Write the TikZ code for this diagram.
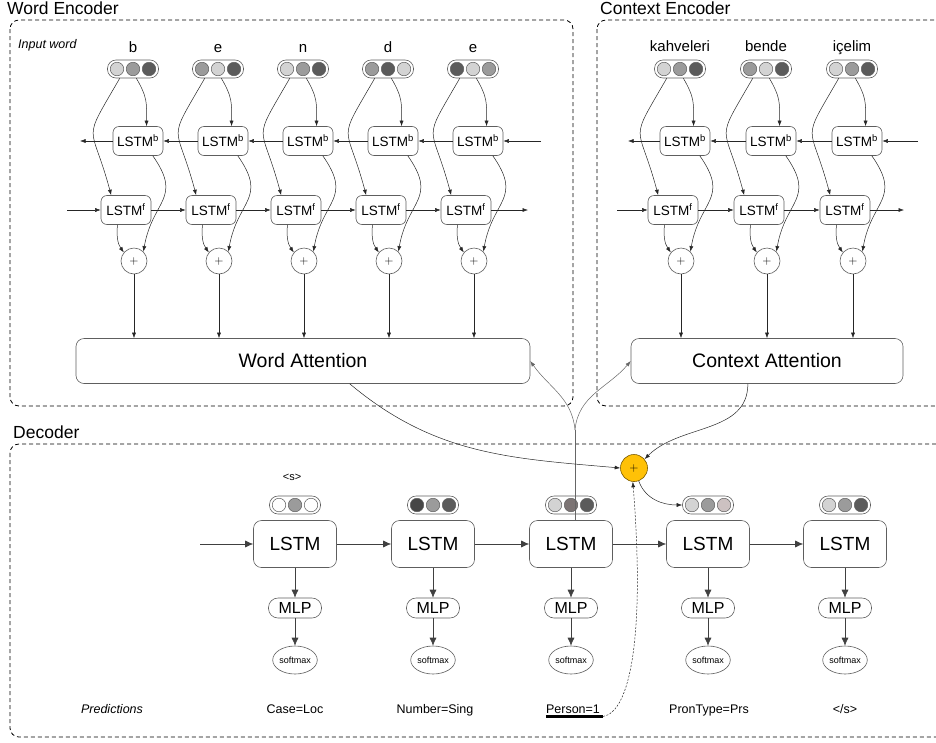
\documentclass[tikz,border=0pt]{standalone}
\usepackage{fontspec}
\setmainfont{Liberation Sans}
\usepackage{xcolor}
\definecolor{dot-light}{HTML}{D3D3D3}
\definecolor{dot-mid}{HTML}{9B9B9B}
\definecolor{dot-dark}{HTML}{5B5B5B}
\definecolor{dot-black}{HTML}{464646}
\definecolor{dot-brown}{HTML}{7C7474}
\definecolor{dot-rose}{HTML}{CCC1C1}
\definecolor{edge-gray}{HTML}{5E5E5E}
\definecolor{merge-gold}{HTML}{FFC107}
\definecolor{merge-edge}{HTML}{7A5A00}
\usetikzlibrary{arrows.meta,shapes.geometric}

\tikzset{
    panel/.style={dash pattern=on 4pt off 3pt, line width=0.8pt, rounded corners=9pt},
    title/.style={anchor=base west, inner sep=0pt, font=\fontsize{17.5}{20}\selectfont},
    note/.style={anchor=base, inner sep=0pt, font=\fontsize{12.5}{15}\selectfont\itshape},
    token/.style={anchor=base, inner sep=0pt, font=\fontsize{15}{18}\selectfont},
    pill/.style={draw=edge-gray, fill=white, line width=0.6pt, rounded corners=8.5pt, minimum width=51pt, minimum height=18pt, inner sep=0pt},
    bead/.style={circle, draw=edge-gray, line width=0.5pt, minimum size=13.5pt, inner sep=0pt},
    cell/.style={draw=edge-gray, line width=0.6pt, rounded corners=6pt, minimum width=50pt, minimum height=29pt, inner sep=0pt, font=\fontsize{13.5}{16}\selectfont},
    sum/.style={circle, draw=edge-gray, line width=0.6pt, minimum size=26pt, inner sep=0pt, font=\fontsize{13}{15}\selectfont},
    attention/.style={draw=edge-gray, line width=0.6pt, rounded corners=8pt, minimum height=45pt, inner sep=0pt, font=\fontsize{19.5}{22}\selectfont},
    dec cell/.style={draw=edge-gray, line width=0.6pt, rounded corners=8pt, minimum width=83pt, minimum height=47pt, inner sep=0pt, font=\fontsize{19}{22}\selectfont},
    mlp/.style={draw=edge-gray, line width=0.6pt, rounded corners=9.5pt, minimum width=53pt, minimum height=20pt, inner sep=0pt, font=\fontsize{16}{18}\selectfont},
    softmax/.style={ellipse, draw=edge-gray, line width=0.6pt, minimum width=39pt, minimum height=28pt, inner sep=0pt, font=\fontsize{9}{10}\selectfont},
    pred/.style={anchor=base, inner sep=0pt, font=\fontsize{12.5}{15}\selectfont},
    merge/.style={circle, fill=merge-gold, draw=merge-edge, line width=0.6pt, minimum size=27pt, inner sep=0pt, font=\fontsize{13}{15}\selectfont},
    link/.style={line width=0.5pt, draw=black!85, -{Latex[length=5.5pt,width=4pt]}},
    feed/.style={line width=0.6pt, draw=black!75, -{Latex[length=8pt,width=7pt]}},
}

% embedding: name, position, three bead colours
\newcommand{\embpill}[5]{%
    \node[pill] (#1) at (#2) {};
    \node[bead, fill=#3] (#1-a) at ([xshift=-16pt]#1.center) {};
    \node[bead, fill=#4] (#1-b) at (#1.center) {};
    \node[bead, fill=#5] (#1-c) at ([xshift=16pt]#1.center) {};
}

\begin{document}
\begin{tikzpicture}[x=1pt, y=-1pt]

    \useasboundingbox (0,0) rectangle (936,742);
    \clip (0,0) rectangle (936,742);

    % Panels
    \draw[panel] (10,20) rectangle (573,406);
    \draw[panel] (597,20) rectangle (950,406);
    \draw[panel] (10,444) rectangle (950,737);
    \node[title] (t-word) at (7,14) {Word Encoder};
    \node[title] (t-ctx) at (600,14) {Context Encoder};
    \node[title] (t-dec) at (13,438) {Decoder};
    \node[note, anchor=base west] (t-input) at (18,48) {Input word};

    % Word encoder
    \node[attention, minimum width=454pt] (wa) at (303,361) {Word Attention};
    \foreach \ch/\c/\ca/\cb/\cc [count=\i] in {b/133/dot-light/dot-mid/dot-dark, e/218/dot-mid/dot-light/dot-dark, n/303/dot-light/dot-mid/dot-dark, d/388/dot-mid/dot-dark/dot-light, e/473/dot-dark/dot-light/dot-mid} {
        \node[token] (wl\i) at (\c,52) {\ch};
        \embpill{we\i}{\c,69}{\ca}{\cb}{\cc}
        \node[cell] (wb\i) at (\c+5,141) {LSTM\textsuperscript{b}};
        \node[cell] (wf\i) at (\c-7,210) {LSTM\textsuperscript{f}};
        \node[sum] (wp\i) at (\c+1,261) {$+$};
        \draw[link] (we\i.-70) to[out=-60, in=90, looseness=1.2] (wb\i.60);
        \draw[link] (we\i.-145) to[out=-120, in=105, looseness=1.7] (wf\i.135);
        \draw[link] (wb\i.-45) to[out=-55, in=80, looseness=1.4] (wp\i.45);
        \draw[link] (wf\i.-120) to[out=-95, in=125] (wp\i.140);
        \draw[link] (wp\i) -- (wp\i |- wa.north);
    }
    \foreach \i [evaluate=\i as \j using int(\i+1)] in {1,...,4} {
        \draw[link] (wb\j) -- (wb\i);
        \draw[link] (wf\i) -- (wf\j);
    }
    \coordinate (wb-out) at (80,141);
    \coordinate (wb-in) at (541,141);
    \coordinate (wf-in) at (67,210);
    \coordinate (wf-out) at (528,210);
    \draw[link] (wb1) -- (wb-out);
    \draw[link] (wb-in) -- (wb5);
    \draw[link] (wf-in) -- (wf1);
    \draw[link] (wf5) -- (wf-out);

    % Context encoder
    \node[attention, minimum width=272pt] (ca) at (767,361) {Context Attention};
    \foreach \w/\c/\ca/\cb/\cc [count=\i] in {kahveleri/680/dot-light/dot-mid/dot-dark, bende/766/dot-mid/dot-light/dot-dark, içelim/852/dot-light/dot-mid/dot-dark} {
        \node[token] (cl\i) at (\c,51) {\w};
        \embpill{ce\i}{\c,69}{\ca}{\cb}{\cc}
        \node[cell] (cb\i) at (\c+5,141) {LSTM\textsuperscript{b}};
        \node[cell] (cf\i) at (\c-7,210) {LSTM\textsuperscript{f}};
        \node[sum] (cp\i) at (\c+1,261) {$+$};
        \draw[link] (ce\i.-70) to[out=-60, in=90, looseness=1.2] (cb\i.60);
        \draw[link] (ce\i.-145) to[out=-120, in=105, looseness=1.7] (cf\i.135);
        \draw[link] (cb\i.-45) to[out=-55, in=80, looseness=1.4] (cp\i.45);
        \draw[link] (cf\i.-120) to[out=-95, in=125] (cp\i.140);
        \draw[link] (cp\i) -- (cp\i |- ca.north);
    }
    \foreach \i [evaluate=\i as \j using int(\i+1)] in {1,2} {
        \draw[link] (cb\j) -- (cb\i);
        \draw[link] (cf\i) -- (cf\j);
    }
    \coordinate (cb-out) at (628,141);
    \coordinate (cb-in) at (918,141);
    \coordinate (cf-in) at (617,210);
    \coordinate (cf-out) at (904,210);
    \draw[link] (cb1) -- (cb-out);
    \draw[link] (cb-in) -- (cb3);
    \draw[link] (cf-in) -- (cf1);
    \draw[link] (cf3) -- (cf-out);

    % Decoder
    \node[pred, font=\fontsize{11}{13}\selectfont] (bos) at (292,480) {<s>};
    \foreach \x/\ca/\cb/\cc [count=\i] in {295/white/dot-mid/white, 433/dot-black/dot-mid/dot-dark, 571/dot-light/dot-brown/dot-dark, 708/dot-light/dot-mid/dot-rose, 845/dot-light/dot-mid/dot-dark} {
        \embpill{de\i}{\x,505}{\ca}{\cb}{\cc}
        \node[dec cell] (dl\i) at (\x,544) {LSTM};
        \node[mlp] (dm\i) at (\x,608) {MLP};
        \node[softmax] (ds\i) at (\x,660) {softmax};
        \draw[feed] (dl\i) -- (dm\i);
        \draw[feed] (dm\i) -- (ds\i);
    }
    \coordinate (dl-in) at (200,544);
    \draw[feed] (dl-in) -- (dl1);
    \foreach \i [evaluate=\i as \j using int(\i+1)] in {1,...,4} {
        \draw[feed] (dl\i) -- (dl\j);
    }

    % Predictions
    \node[note] (pr0) at (112,713) {Predictions};
    \node[pred] (pr1) at (295,713) {Case=Loc};
    \node[pred] (pr2) at (435,713) {Number=Sing};
    \node[pred] (pr3) at (573,713) {Person=1};
    \node[pred] (pr4) at (709,713) {PronType=Prs};
    \node[pred] (pr5) at (845,713) {</s>};
    \coordinate (ul-start) at ([yshift=-3.5pt]pr3.base west);
    \coordinate (ul-end) at ([xshift=3pt,yshift=-3.5pt]pr3.base east);
    \draw[line width=2.2pt] (ul-start) -- (ul-end);

    % Attention merge
    \node[merge] (mg) at (634,468) {$+$};
    \coordinate (split) at (575,430);
    \draw[line width=0.5pt, draw=black!60] (dl3.north -| split) -- (split);
    \draw[link, draw=black!60] (split) to[out=95, in=-55] (wa.east);
    \draw[link, draw=black!60] (split) to[out=85, in=-130] (ca.west);
    \draw[link] (wa.-26) to[out=-40, in=175] (mg.west);
    \draw[link] (ca.-130) to[out=-90, in=45] (mg.40);
    \draw[link, dash pattern=on 2pt off 1.5pt] (ul-end) .. controls +(28,-5) and +(12,150) .. (mg.-95);
    \draw[link] (mg.-70) to[out=-70, in=180] (de4.west);

\end{tikzpicture}
\end{document}
